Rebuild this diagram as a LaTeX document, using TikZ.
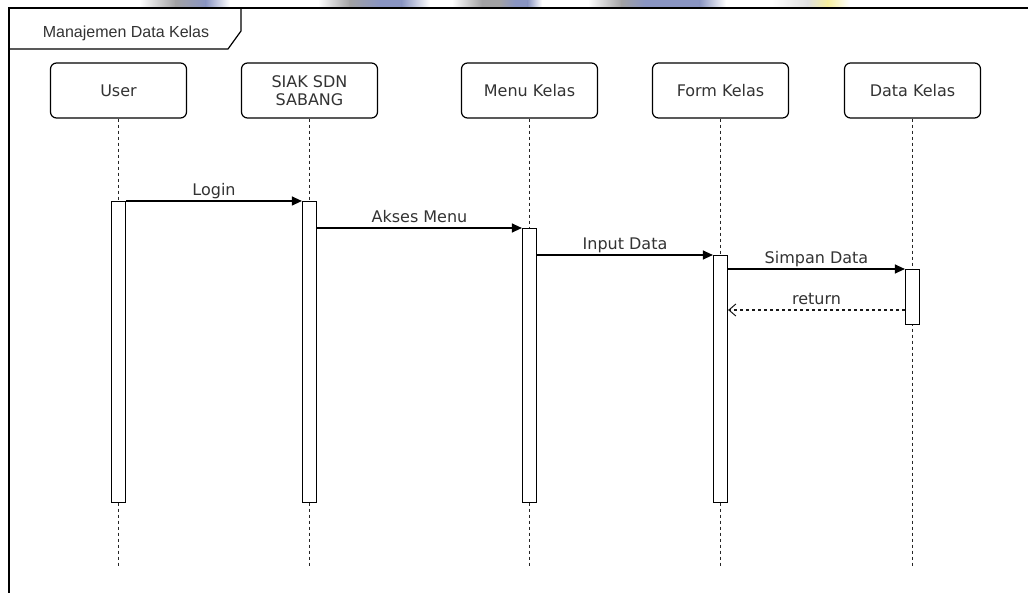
\documentclass[tikz,border=0pt]{standalone}
\usepackage{fontspec}
\setmainfont{DejaVu Sans}
\newfontfamily\framefont{Liberation Sans}
\usetikzlibrary{arrows.meta,calc}
\definecolor{inkgray}{HTML}{333333}
\definecolor{wmgray}{HTML}{A2A2A4}
\definecolor{wmblue}{HTML}{8A95C2}
\definecolor{wmyellow}{HTML}{F8F0A0}
\tikzset{
  head/.style={draw=black, line width=1.2pt, rounded corners=6pt, fill=white,
    minimum width=136pt, minimum height=55pt, align=center, inner sep=0pt,
    text=inkgray, font=\fontsize{16}{17.5}\selectfont},
  actbar/.style={draw=black, line width=1.2pt, fill=white, anchor=north,
    minimum width=14pt, inner sep=0pt},
  lifeline/.style={draw=black!85, line width=1pt, dash pattern=on 3pt off 3pt},
  msg/.style={draw=black, line width=1.2pt, -{Triangle[length=10pt,width=9pt]}},
  reply/.style={draw=black!90, line width=1.2pt, dash pattern=on 3pt off 3pt,
    -{Straight Barb[length=7pt,width=12pt,line width=1pt]}},
  msglabel/.style={midway, anchor=base, yshift=5.5pt, inner sep=0pt,
    text=inkgray, font=\fontsize{16}{18}\selectfont},
  wm/.style={draw=none}
}
\begin{document}
\begin{tikzpicture}[x=1pt, y=-1pt]
\useasboundingbox (0,0) rectangle (1028,593);
\fill[white] (0,0) rectangle (1028,593);

% soft watermark strip along the top edge
\begin{scope}
  \clip (0,0) rectangle (1028,7.5);
  \shade[wm, left color=white, right color=wmgray] (140,0) rectangle (176,8);
  \shade[wm, left color=wmgray, right color=wmblue] (175.5,0) rectangle (206,8);
  \shade[wm, left color=wmblue, right color=white] (205.5,0) rectangle (230,8);
  \shade[wm, left color=white, right color=wmgray] (318,0) rectangle (350,8);
  \shade[wm, left color=wmgray, right color=wmblue] (349.5,0) rectangle (380,8);
  \fill[wmblue] (379.5,0) rectangle (402,8);
  \shade[wm, left color=wmblue, right color=white] (401.5,0) rectangle (430,8);
  \shade[wm, left color=white, right color=wmgray] (452,0) rectangle (482,8);
  \fill[wmgray] (481.5,0) rectangle (500,8);
  \shade[wm, left color=wmgray, right color=wmblue] (499.5,0) rectangle (515,8);
  \fill[wmblue] (514.5,0) rectangle (528,8);
  \shade[wm, left color=wmblue, right color=white] (527.5,0) rectangle (542,8);
  \shade[wm, left color=white, right color=wmgray] (588,0) rectangle (622,8);
  \shade[wm, left color=wmgray, right color=wmblue] (621.5,0) rectangle (645,8);
  \fill[wmblue] (644.5,0) rectangle (700,8);
  \shade[wm, left color=wmblue, right color=white] (699.5,0) rectangle (726,8);
  \shade[wm, left color=white, right color=black!12] (772,0) rectangle (808,8);
  \shade[wm, left color=black!12, right color=wmyellow] (807.5,0) rectangle (828,8);
  \shade[wm, left color=wmyellow, right color=white] (827.5,0) rectangle (850,8);
\end{scope}

% frame with its name tab
\coordinate (fTL) at (9,8);
\coordinate (fTR) at (1028,8);
\coordinate (fBL) at (9,593);
\draw[line width=1.6pt] (fTR) -- (fTL) -- (fBL);
\draw[line width=1.2pt] (fTL) -- (241,8) -- (241,31) -- (228,49) -- (9,49);
\node[inner sep=0pt, text=inkgray, font=\framefont\fontsize{16}{18}\selectfont]
  (framename) at (126,33) {Manajemen Data Kelas};

% lifeline heads
\node[head] (user) at (118.5,90.5) {User};
\node[head] (siak) at (309.5,90.5) {SIAK SDN\\SABANG};
\node[head] (menu) at (529.5,90.5) {Menu Kelas};
\node[head] (form) at (720.5,90.5) {Form Kelas};
\node[head] (data) at (912.5,90.5) {Data Kelas};

% lifeline ends
\coordinate (userEnd) at (118.5,567);
\coordinate (siakEnd) at (309.5,567);
\coordinate (menuEnd) at (529.5,567);
\coordinate (formEnd) at (720.5,567);
\coordinate (dataEnd) at (912.5,567);

\draw[lifeline] (user.south) -- (userEnd);
\draw[lifeline] (siak.south) -- (siakEnd);
\draw[lifeline] (menu.south) -- (menuEnd);
\draw[lifeline] (form.south) -- (formEnd);
\draw[lifeline] (data.south) -- (dataEnd);

% activation bars
\node[actbar, minimum height=301pt] (ubar) at (118.5,201) {};
\node[actbar, minimum height=301pt] (sbar) at (309.5,201) {};
\node[actbar, minimum height=274pt] (mbar) at (529.5,228) {};
\node[actbar, minimum height=247pt] (fbar) at (720.5,255) {};
\node[actbar, minimum height=55pt]  (dbar) at (912.5,269) {};

% messages
\draw[msg] (ubar.north east) -- (sbar.north west)
  node[msglabel] {Login};
\draw[msg] (sbar.east |- mbar.north) -- (mbar.north west)
  node[msglabel] {Akses Menu};
\draw[msg] (mbar.east |- fbar.north) -- (fbar.north west)
  node[msglabel] {Input Data};
\draw[msg] (fbar.east |- dbar.north) -- (dbar.north west)
  node[msglabel] {Simpan Data};
\coordinate (retY) at (0,310);
\draw[reply] (dbar.west |- retY) -- (fbar.east |- retY)
  node[msglabel] {return};
\end{tikzpicture}
\end{document}
